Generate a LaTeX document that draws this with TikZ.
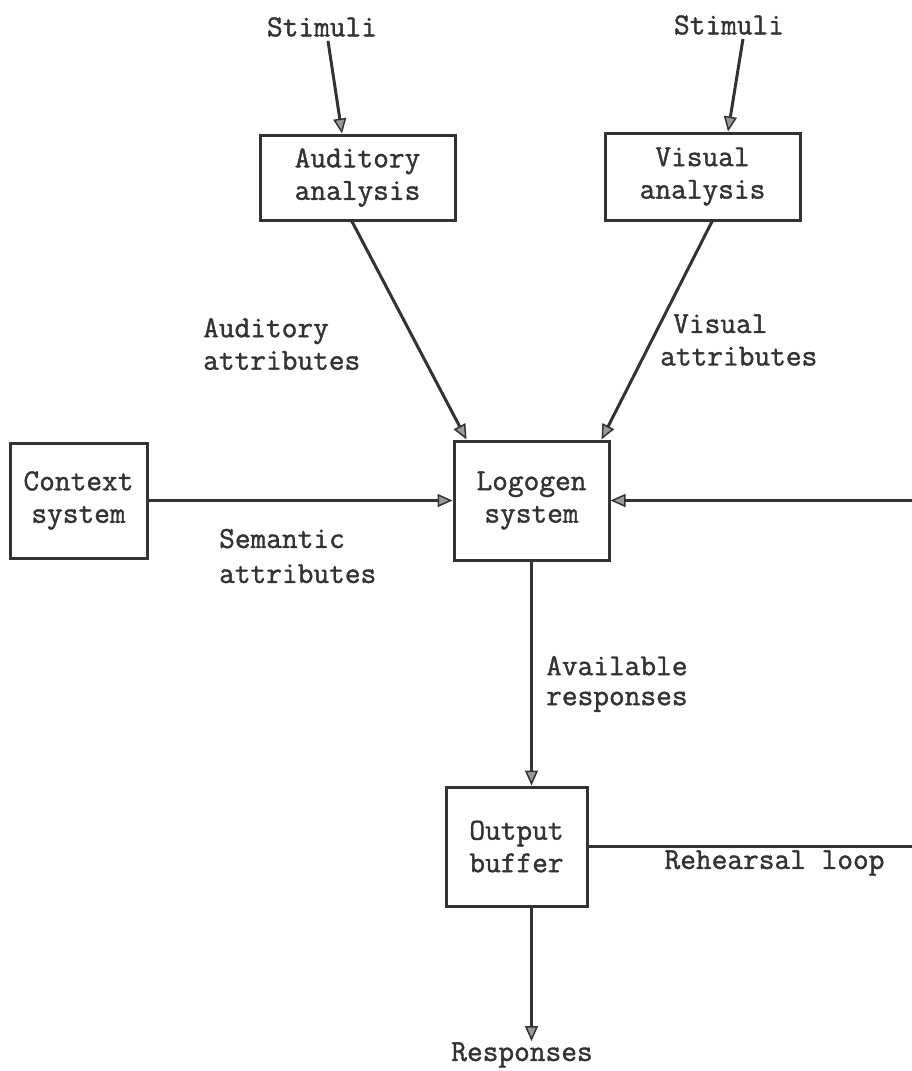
\documentclass[tikz,border=0pt]{standalone}
\usepackage{fontspec}
\usetikzlibrary{arrows.meta}
\newfontfamily\twfam{Latin Modern Mono}[FakeBold=1.3]
\definecolor{ink}{gray}{0.2}
\definecolor{arrowfill}{gray}{0.6}
\newcommand\twfont{\fontsize{30.5}{32.5}\selectfont\twfam}
\tikzset{
  every node/.style={font=\twfont, text=ink},
  box/.style={draw=ink, line width=3pt, align=center, inner sep=0pt},
  lab/.style={align=left, inner sep=0pt},
  conn/.style={draw=ink, line width=3pt, line join=miter,
    -{Triangle[length=15pt,width=13pt,fill=arrowfill,line width=1.5pt]}},
}
\begin{document}
\begin{tikzpicture}[x=1pt,y=-1pt]
\useasboundingbox (0,0) rectangle (912,1071);
\clip (0,0) rectangle (912,1071);
\fill[white] (0,0) rectangle (912,1071);

% boxes
\node[box, minimum width=195pt, minimum height=85pt] (aud) at (357.5,177.5) {Auditory\\analysis};
\node[box, minimum width=195pt, minimum height=87pt] (vis) at (702.5,176.5) {Visual\\analysis};
\node[box, minimum width=137pt, minimum height=115pt] (ctx) at (78.5,500.5) {Context\\system};
\node[box, minimum width=155pt, minimum height=119pt] (log) at (531.5,500.5) {Logogen\\system};
\node[box, minimum width=141pt, minimum height=119pt] (out) at (516.5,846.5) {Output\\buffer};

% free texts
\node[inner sep=0pt] (stimA) at (322,27) {Stimuli};
\node[inner sep=0pt] (stimV) at (729,25) {Stimuli};
\node[inner sep=0pt] (resp) at (522,1055) {Responses};

% connector labels
\node[lab, anchor=west] (audlab) at (203,344) {Auditory\\attributes};
\node[lab, anchor=west] (vislab) at (660,340) {\hspace*{13pt}Visual\\attributes};
\node[lab, anchor=west, font=\fontsize{30.5}{35}\selectfont\twfam] (semlab) at (219,556) {Semantic\\attributes};
\node[lab, anchor=west, font=\fontsize{30.5}{30}\selectfont\twfam] (avlab) at (546,684) {Available\\responses};
\node[lab, anchor=center] (rehlab) at (774.5,863) {Rehearsal loop};

% connectors
\draw[conn] ([xshift=6pt,yshift=-4pt]stimA.south) -- ([xshift=-15.5pt]aud.north);
\draw[conn] ([xshift=14pt,yshift=-4pt]stimV.south) -- ([xshift=25.5pt]vis.north);
\draw[conn] ([xshift=-5.5pt]aud.south) -- ([xshift=14pt]log.north west);
\draw[conn] ([xshift=9.5pt]vis.south) -- ([xshift=-9pt]log.north east);
\draw[conn] (ctx.east) -- (log.west);
\draw[conn] (log.south) -- (log.south |- out.north);
\coordinate (loopx) at (925,846.5);
\draw[conn] (out.east) -- (out.east -| loopx) -- (log.east -| loopx) -- (log.east);
\coordinate (respTop) at ([yshift=1pt]resp.north);
\draw[conn] (out.south -| log.south) -- (respTop -| log.south);
\end{tikzpicture}
\end{document}
